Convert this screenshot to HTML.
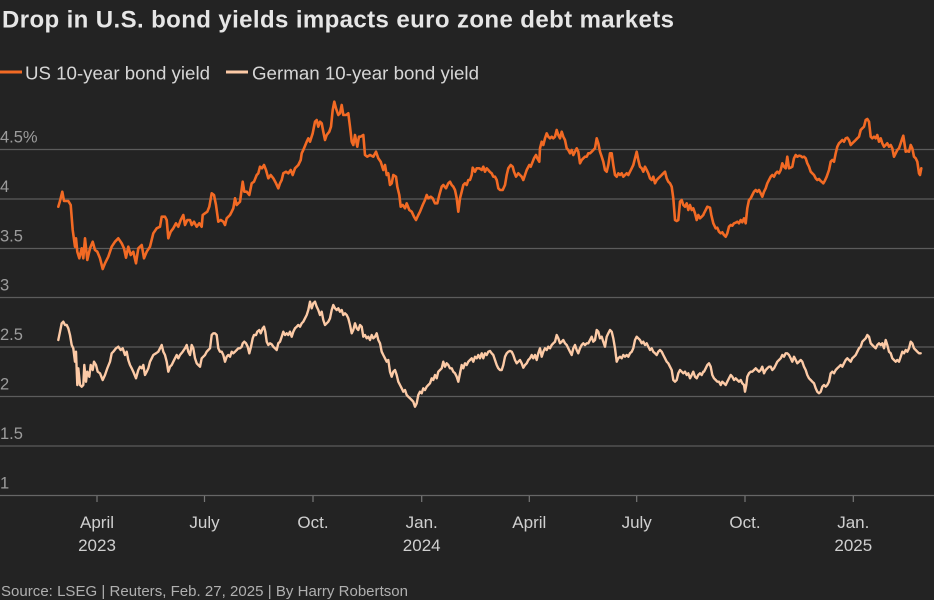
<!DOCTYPE html>
<html><head><meta charset="utf-8"><style>
html,body{margin:0;padding:0;background:#232323;}
svg{display:block;font-family:"Liberation Sans",sans-serif;}
</style></head><body>
<svg width="934" height="600" viewBox="0 0 934 600" xmlns="http://www.w3.org/2000/svg">
<rect width="934" height="600" fill="#232323"/>
<text x="2" y="27.5" font-size="24" font-weight="bold" fill="#e6e6e6" textLength="672" lengthAdjust="spacing">Drop in U.S. bond yields impacts euro zone debt markets</text>
<line x1="0" y1="72" x2="22" y2="72" stroke="#f26a24" stroke-width="3"/>
<text x="25" y="79.5" font-size="18.7" fill="#d6d6d6" textLength="185" lengthAdjust="spacing">US 10-year bond yield</text>
<line x1="226" y1="72" x2="248" y2="72" stroke="#fccaa6" stroke-width="3"/>
<text x="252" y="79.5" font-size="18.7" fill="#d6d6d6" textLength="227" lengthAdjust="spacing">German 10-year bond yield</text>
<g stroke="#5c5c5c" stroke-width="1.3">
<line x1="0" y1="149.5" x2="934" y2="149.5"/>
<line x1="0" y1="199" x2="934" y2="199"/>
<line x1="0" y1="248.5" x2="934" y2="248.5"/>
<line x1="0" y1="297.5" x2="934" y2="297.5"/>
<line x1="0" y1="347" x2="934" y2="347"/>
<line x1="0" y1="396.5" x2="934" y2="396.5"/>
<line x1="0" y1="446" x2="934" y2="446"/>
<line x1="0" y1="495.5" x2="934" y2="495.5" stroke="#666"/>
</g>
<g stroke="#777" stroke-width="1.2">
<line x1="97" y1="496" x2="97" y2="502"/>
<line x1="204.5" y1="496" x2="204.5" y2="502"/>
<line x1="313" y1="496" x2="313" y2="502"/>
<line x1="421.7" y1="496" x2="421.7" y2="502"/>
<line x1="529.3" y1="496" x2="529.3" y2="502"/>
<line x1="636.7" y1="496" x2="636.7" y2="502"/>
<line x1="745" y1="496" x2="745" y2="502"/>
<line x1="853.3" y1="496" x2="853.3" y2="502"/>
</g>
<g font-size="16.5" fill="#9c9c9c">
<text x="0" y="142.5">4.5%</text>
<text x="0" y="192">4</text>
<text x="0" y="241.5">3.5</text>
<text x="0" y="290.5">3</text>
<text x="0" y="340">2.5</text>
<text x="0" y="389.5">2</text>
<text x="0" y="439">1.5</text>
<text x="0" y="488.5">1</text>
</g>
<g font-size="17" fill="#cfcfcf" text-anchor="middle">
<text x="97" y="528">April</text>
<text x="97" y="551">2023</text>
<text x="204.5" y="528">July</text>
<text x="313" y="528">Oct.</text>
<text x="421.7" y="528">Jan.</text>
<text x="421.7" y="551">2024</text>
<text x="529.3" y="528">April</text>
<text x="636.7" y="528">July</text>
<text x="745" y="528">Oct.</text>
<text x="853.3" y="528">Jan.</text>
<text x="853.3" y="551">2025</text>
</g>
<text x="1" y="596" font-size="15" fill="#b0b0b0" textLength="407" lengthAdjust="spacing">Source: LSEG | Reuters, Feb. 27, 2025 | By Harry Robertson</text>

<polyline fill="none" stroke="#fccaa6" stroke-width="2.4" stroke-linejoin="round" stroke-linecap="round" points="58.3,340 60,331.7 61.7,323.3 63.3,321.7 65,325 66.7,325 68.3,328.3 70,335 71.7,345 73.3,348.3 75,361.7 76,351.7 77.3,385 78.3,368.3 80,385 81.7,386.7 83.3,385 84.3,365 86,381.7 87.3,371.7 89.3,376.7 90.7,365 92.7,370 94,361.7 96,365 97.7,371.7 100,373.3 102.7,380 105,375 107.3,368.3 110,361.7 111.7,353.3 113.3,351.7 116,348.3 118.3,346.7 120.7,350 122.7,348.3 125,355 126.7,351.7 128.3,360 130,365 131.7,368.3 133.3,371.7 136,378.3 138.3,370 140,366.7 141.7,368.3 143.3,365 145,375 146.7,371.7 148.3,368.3 150,361.7 151.7,358.3 153.3,355 156,353.3 158.3,351.7 160,348.3 161.7,345 163.3,351.7 165,355 166.7,361.7 168.3,371.7 170,366.7 171.7,365 173.3,361.7 175,358.3 176.7,355 178.3,358.3 180,355 182.7,351.7 185,348.3 186.7,345 188.3,351.7 190,355 191.7,345 193.3,348.3 195,358.3 196.7,363.3 198.3,365 200,366.7 201.7,358.3 203.3,356.7 205,355 206.7,351.7 208.3,350 210,348.3 211.7,335 213.3,333.3 215,333.3 216.7,335 218.3,348.3 220,351.7 221.7,351.7 223.3,355 225,361.7 226.7,356.7 228.3,355 230,356.7 231.7,351.7 233.3,353.3 235,351.7 236.7,350 238.3,348.3 240,348.3 241.7,346.7 242.7,343.3 244.3,341.7 246,343.3 247.7,346.7 249.3,353.3 251,346.7 252.7,338.3 254,335 256,335 257.3,331.7 259.3,330 260.7,333.3 262.7,328.3 264,326.7 265.3,331.7 266.7,341.7 268.3,345 270,343.3 271.7,344.3 273.3,346.7 275,348.3 276.7,350 278.3,343.3 280,341.7 281.7,336.7 283.3,331.7 285,335 286.7,333.3 288.3,335 290,331.7 291.7,336.7 293.3,331.7 295,328.3 296.7,326.7 298.3,325 300,326.7 301.7,323.3 303.3,321.7 305,318.3 306.7,315 308.3,310 310,301.7 311.7,308.3 313.3,303.3 315,301.7 316.7,306.7 318.3,310 320,315 321.7,311.7 323.3,320 325,325 326.7,323.3 328.3,321.7 330,318.3 331.7,310 333.3,305 335,308.3 336.7,310 338.3,308.3 340,311.7 341.7,310 343.3,315 345,313.3 346.7,315 348.3,318.3 350,325 351.7,333.3 353.3,330 355,323.3 356.7,328.3 358.3,330 360,325 361.7,326.7 363.3,336.7 365,335 366.7,338.3 368.3,336.7 370,340 371.7,335 373.3,338.3 375,336.7 376.7,333.3 378.3,340 380,343.3 381.7,351.7 383.3,355 385,358.3 386.7,361.7 388.3,360 390,371.7 391.7,376.7 393.3,371.7 395,370 396.7,375 398.3,381.7 400,385 401.7,388.3 403.3,391.7 405,390 406.7,395 408.3,396.7 410,398.3 411.7,400 413.3,401.7 415,406.7 416.7,403.3 418.3,395 420,391.7 421.7,393.3 423.3,388.3 425,390 426.7,386.7 428.3,385 430,383.3 431.7,378.3 433.3,380 435,375 436.7,378.3 438.3,371.7 440,370 441.7,368.3 443.3,361.7 445,366.7 446.7,363.3 448.3,365 450,368.3 451.7,368.3 453.3,371.7 455,373.3 456.7,376.7 458.3,381.7 460,373.3 461.7,365 463.3,368.3 465,363.3 466.7,365 468.3,361.7 470,360 471.7,358.3 473.3,361.7 475,356.7 476.7,358.3 478.3,355 480,358.3 481.7,353.3 483.3,358.3 485,353.3 486.7,355 488.3,351.7 490,351 491.7,353.3 493.3,355 495,360 496.7,365 498.3,368.3 500,370 501.7,370 503.3,365 505,356.7 506.7,353.3 508.3,351.7 510,351 511.7,351.7 513.3,355 515,360 516.7,363.3 518.3,361.7 520,360 521.7,363.3 523.3,367.7 525,365 526.7,363.3 528.3,360 530,358.3 531.7,355 533.3,358.3 535,355 536.7,360 538.3,353.3 540,348.3 541.7,356.7 543.3,351.7 545,348.3 546.7,350 548.3,346.7 550,348.3 551.7,345 553.3,343.3 555,341.7 556.7,335 558.3,338.3 560,343.3 561.7,341.7 563.3,340 565,343.3 566.7,345 568.3,348.3 570,351.7 571.7,355 573.3,348.3 575,345 576.7,350 578.3,353.3 580,348.3 581.7,345 583.3,343.3 585,345 586.7,343.3 588.3,343.3 590,340 591.7,336.7 593.3,341.7 595,340 596.7,330 598.3,331.7 600,338.3 601.7,336.7 603.3,341.7 605,346.7 606.7,336.7 608.3,333.3 610,330 611.7,331.7 613.3,338.3 615,348.3 616.7,361.7 618.3,358.3 620,356.7 621.7,358.3 623.3,355 625,356.7 626.7,355 628.3,356.7 630,353.3 631.7,351.7 633.3,348.3 635,340 636.7,336.7 638.3,338.3 640,340 641.7,343.3 643.3,341.7 645,345 646.7,343.3 648.3,346.7 650,350 651.7,348.3 653.3,351.7 655,353.3 656.7,355 658.3,351.7 660,350 661.7,351.7 663.3,355 665,358.3 666.7,361.7 668.3,363.3 670,366.7 671.7,370 673.3,380 675,381.7 676.7,380 678.3,373.3 680,370 681.7,371.7 683.3,373.3 685,371.7 686.7,375 688.3,373.3 690,378.3 691.7,375 693.3,371.7 695,376.7 696.7,378.3 698.3,375 700,373.3 701.7,375 703.3,371.7 704,371.7 705.7,368.3 707.3,365 709,363.3 710.7,366.7 712.3,375 714,378.3 715.7,380 717.3,381.7 719,381.7 720.7,385 722.3,381.7 724,383.3 725.7,385 727.3,381.7 729,378.3 730.7,375 732.3,376.7 734,380 735.7,378.3 737.3,380 739,381.7 740.7,380 742.3,383.3 744,385 745,391.7 746.3,385 747.3,376.7 749,373.3 750.7,371.7 752.3,371.7 754,370 755.7,368.3 757.3,370 759,371.7 760.7,370 762.3,366.7 764,373.3 765.7,370 767.3,368.3 769,366.7 770.7,366.7 772.3,370 774,368.3 775.7,365 777.3,361.7 779,360 780.7,358.3 782.3,355 784,356.7 785.7,353.3 787.3,353.3 789,355 790.7,358.3 792.3,361.7 794,356.7 795.7,360 797.3,363.3 799,361.7 800.7,360 802.3,361.7 804,366.7 805.7,370 807.3,375 809,378.3 810.7,380 812.3,381.7 814,383.3 815.7,388.3 817.3,391.7 819,393.3 820.7,391.7 822.3,386.7 824,385 825.7,386.7 827.3,385 829,381.7 830.7,373.3 832.3,371.7 834,373.3 835.7,370 837.3,368.3 839,366.7 840.7,365 842.3,366.7 844,363.3 845.7,360 847.3,358.3 849,360 850.7,361.7 852.3,358.3 854,356.7 855.7,355 857.3,351.7 859,348.3 860.7,346.7 862.3,341.7 864,340 865.7,338.3 867.3,335 869,336.7 870.7,343.3 872.3,345 874,346.7 875.7,348.3 877.3,345 879,343.3 880.7,345 882.3,343.3 884,348.3 885.7,340 887.3,345 889,351.7 890.7,353.3 892.3,358.3 894,360 895.7,361.7 897.3,360 899,361.7 900.7,356.7 902.3,351.7 904,353.3 905.7,350 907.3,351.7 909,348.3 910.7,341.7 912.3,343.3 914,348.3 915.7,350 917.3,351.7 919,353.3 920.7,353.3"/>

<polyline fill="none" stroke="#f26a24" stroke-width="2.6" stroke-linejoin="round" stroke-linecap="round" points="58.3,206.7 60,201 62.3,191.7 64,201 68.3,201 70.7,205 72.7,230 75,246.7 76,238.3 77.3,251.7 79.3,258.3 81.7,248.3 83.3,258.3 85,238.3 87.3,260 90,248.3 92.7,241.7 95,250 97.3,251.7 100,258.3 102.7,269 105,263.3 108.3,256.7 111.7,246.7 115,241.7 118.3,238.3 121.7,243.3 124,248.3 126,257.7 128.3,246.7 130.7,255 133.3,251.7 136,263.3 138.3,248.3 141.7,245 144,258.3 146.7,251.7 150,246.7 153.3,233.3 156.7,228.3 160,226.7 161.7,216.7 165,216.7 166.7,220 168.3,238.3 170.7,231.7 173.3,228.3 176,223.3 178.3,226.7 180.7,220 183.3,215 185,225 187.3,220 190,220 191.7,225 194,221.7 196.7,226.7 199.3,223.3 201.7,226.7 202.7,215 205,213.3 207.3,211.7 209.3,206.7 211.7,193.3 214,195 216,205 218.3,221.7 220.7,220 223.3,221.7 225,225 226.7,218.3 230,215 231.7,211.7 233.3,208.3 235,198.3 236.7,205 238.3,203.3 240,201.7 242.7,181.7 244.3,191.7 246.7,191.7 249.3,195 251.7,183.3 254,181.7 256.7,175 258.3,173.3 260,166.7 262,168.3 264,165 266,170 268.3,178.3 270.7,175 273.3,178.3 276,183.3 278.3,188.3 280,183.3 281.7,180 283.3,173.3 286,171.7 288.3,173.3 290.7,170 292.7,175 295,168.3 298.3,165 300.7,160 301.7,153.3 303.3,150 306.7,141.7 308.3,138.3 310,141.7 312.7,133.3 315,121.7 316.7,120 318.3,126.7 320,121.7 321.7,123.3 323.3,131.7 325,140 326.7,135 329.3,131.7 331,126.7 332.7,110 334.3,101.7 336,108.3 338.3,115 340,113.3 341.7,105 343.3,115 346,115 348.3,113.3 350,126.7 351.7,141.7 353.3,145 355,135 357.3,146.7 359,136.7 360.7,136.7 363.3,135 365,155 367.3,156.7 370,155 373.3,156.7 376,151.7 378.3,158.3 380.7,161.7 383.3,170 385,165 386.7,175 388.3,173.3 390,185 391.7,183.3 393.3,175 396,176.7 397.3,186.7 399.3,195 400.7,206.7 402.7,205 405,208.3 406.7,203.3 409.3,210 411.7,211.7 414,216.7 416,220 418.3,215 420,211.7 422.7,205 425,200 426.7,195 428.3,198.3 430.7,196.7 432.7,198.3 435,203.3 437.3,203.3 439.3,195 441.7,186.7 443.3,185 446,188.3 448.3,183.3 450,181.7 451.7,185 453.3,186.7 455,190 456.7,198.3 458.3,211.7 460,198.3 461.7,191.7 463.3,185 465,183.3 466.7,185 468.3,180 470,180 471.7,175 472.7,167.7 475,171.7 476.7,168.3 479.3,168.3 481.7,170 483.3,166.7 485,171.7 486.7,168.3 488.3,170 490,172 491.7,173.3 493.3,176.7 495,176.7 496.7,180 498.3,188.3 500,190 502.7,190 505,185 506.7,175 508.3,168.3 510.7,165 512.7,166.7 514,171.7 516,176.7 518.3,173.3 520,175 521.7,176.7 523.3,180 525,175 526.7,170 529.3,165 530.7,166.7 532.7,161.7 534,158.3 536,155 537.3,158.3 539.3,161.7 540,148.3 541.7,141.7 543.3,145 545,138.3 546.7,133.3 548.3,136.7 550,138.3 551.7,136.7 553.3,138.3 555,136.7 556.7,130 558.3,135 560,138.3 561.7,131.7 563.3,136.7 565,140 566.7,148.3 568.3,150 570,153.3 571.7,150 573.3,155 575,151.7 576.7,148.3 578.3,151.7 580,163.3 581.7,160 583.3,158.3 585,156.7 586.7,156.7 588.3,153.3 590,153.3 591.7,151.7 593.3,150 595,148.3 596.7,138.3 598.3,143.3 600,151.7 601.7,156.7 603.3,161.7 605,170 606.7,171.7 608.3,165 610,153.3 611.7,153.3 613.3,165 615,175 616.7,176.7 618.3,173.3 620,175 621.7,173.3 623.3,176.7 625,175 626.7,173.3 628.3,175 630,171.7 631.7,168.3 633.3,165 635,158.3 636.7,151.7 638.3,160 640,166.7 641.7,168.3 643.3,171.7 645,166.7 646.7,170 648.3,173.3 650,178.3 651.7,180 653.3,176.7 655,183.3 656.7,180 658.3,178.3 660,176.7 661.7,175 663.3,173.3 665,171.7 666.7,178.3 668.3,181.7 670,183.3 671.7,186.7 673.3,198.3 675,220 676.7,221 678.3,220 680,201.7 681.7,200 683.3,205 685,206.7 686.7,203.3 688.3,210 690,205 691.7,210 693.3,208.3 695,213.3 696.7,220 698.3,215 700,218.3 701.7,216.7 703.3,215 704,213.3 705.7,210 707.3,206.7 710,207.7 711.3,215 713.3,223.3 715.7,228.3 717.3,227.7 719,231.7 720.7,233.3 722.3,232.3 724,235 725.7,236.7 727.3,233.3 729,226.7 730.7,225 732.3,225.7 734,223.3 735.7,222.7 737.3,221.7 739,223.3 740.7,220 742.3,222.3 744,218.3 745.7,223.3 747.3,208.3 749,200 750.7,198.3 752.3,195 754,191.7 755.7,190 757.3,191.7 759,190 760.7,193.3 762.3,196.7 764,191.7 765.7,188.3 767.3,183.3 769,180 770.7,176.7 772.3,175 774,176.7 775.7,173.3 777.3,171.7 779,173.3 780.7,170 782.3,163.3 784,166.7 785.7,168.3 787.3,156.7 789,168.3 790.7,167.7 792.3,166.7 794,158.3 795.7,155 797.3,156.7 799,155.7 800.7,156 802.3,157.3 804,156.7 805.7,158.3 807.3,163.3 809,166.7 810.7,171.7 812.3,173.3 814,175 815.7,178.3 817.3,180 819,179 820.7,181 822.3,182.3 823.3,183.3 824.7,181 826.7,176.7 829,170 830.7,161.7 832.3,160 834,161.7 835.7,153.3 837.3,146.7 839,143.3 840.7,141.7 842.3,140 844,141.7 845.7,138.3 847.3,137.7 849,140 850.7,145 852.3,143.3 854,141.7 855.7,140 857.3,138.3 859,136.7 860.7,130 862.3,128.3 864,126.7 865.7,120 867.3,119 869,121.7 870.7,136.7 872.3,138.3 874,136.7 875.7,138.3 877.3,135 879,141.7 880.7,138.3 882.3,143.3 884,146.7 885.7,145 887.3,143.3 889,146.7 890.7,145 892.3,148.3 894,156.7 895.7,153.3 897.3,150 899,148.3 900.7,143.3 902.3,138.3 903.3,135.7 904.7,145 905.7,151.7 907.3,151 909,151.7 910.7,145 912.3,148.3 914,156.7 915.7,158.3 917.3,161.7 919,173.3 920,175 921.3,168.3"/>
</svg>
</body></html>
